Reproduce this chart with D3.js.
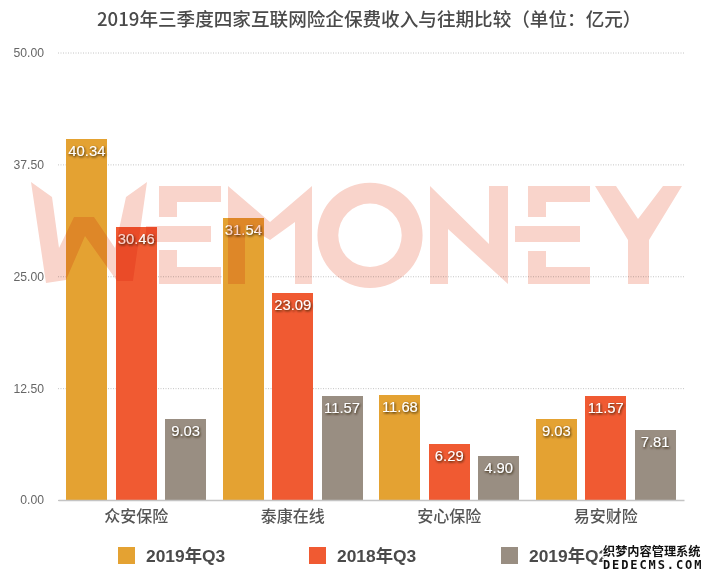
<!DOCTYPE html>
<html lang="zh">
<head>
    <meta charset="UTF-8">
    <title>2019年三季度四家互联网险企保费收入与往期比较</title>
    <script src="https://cdnjs.cloudflare.com/ajax/libs/d3/7.8.5/d3.min.js"></script>
    <style>
        body { margin: 0; padding: 0; background: #fff; }
        svg { display: block; }
        text { font-family: "Liberation Sans", "Noto Sans CJK SC", sans-serif; }
        .title { font-family: "Noto Sans CJK SC", sans-serif; font-size: 18.6px; font-weight: 500; fill: #4a4a4a; }
        .y-axis text { font-size: 12.2px; fill: #666; }
        .y-axis .tick line { stroke: #b5b5b5; stroke-width: 0.8px; stroke-dasharray: 1 1.5; }
        .x-axis text { font-family: "Noto Sans CJK SC", sans-serif; font-size: 16px; font-weight: 500; fill: #555; }
        .bar-label { font-size: 14.8px; fill: #fff; text-anchor: middle; }
        .legend-label { font-size: 17.4px; font-weight: 700; fill: #4a4a4a; }
        .stamp { fill: #111; stroke: #fff; stroke-width: 2.5px; paint-order: stroke; font-weight: 700; }
    </style>
</head>
<body>
    <div id="chart"></div>

    <script>
        const titleText = "2019年三季度四家互联网险企保费收入与往期比较（单位：亿元）";
        const categories = ["众安保险", "泰康在线", "安心保险", "易安财险"];
        const seriesNames = ["2019年Q3", "2018年Q3", "2019年Q2"];
        const seriesColors = ["#E4A232", "#F05A32", "#998E82"];
        const q3of2019 = [40.34, 31.54, 11.68, 9.03];
        const q3of2018 = [30.46, 23.09, 6.29, 11.57];
        const q2of2019 = [9.03, 11.57, 4.90, 7.81];
        const seriesValues = [q3of2019, q3of2018, q2of2019];
        const yTicks = [0, 12.5, 25, 37.5, 50];

        const width = 712;
        const height = 578;
        const margin = { left: 58, right: 28, top: 52.5, bottom: 78 };

        const svg = d3.select("#chart")
            .append("svg")
            .attr("width", width)
            .attr("height", height);

        // css text-shadow is ignored on svg text, so use a real filter
        svg.append("defs").append("filter")
            .attr("id", "label-shadow")
            .attr("x", "-20%").attr("y", "-30%")
            .attr("width", "140%").attr("height", "170%")
            .append("feDropShadow")
            .attr("dx", 0.8).attr("dy", 1.2)
            .attr("stdDeviation", 0.9)
            .attr("flood-color", "#2a1a08")
            .attr("flood-opacity", 1);

        const x0 = d3.scaleBand()
            .domain(categories)
            .range([margin.left, width - margin.right])
            .paddingInner(0.107)
            .paddingOuter(0.0535);

        const x1 = d3.scaleBand()
            .domain(seriesNames)
            .range([0, x0.bandwidth()])
            .paddingInner(0.168);

        const y = d3.scaleLinear()
            .domain([0, 50])
            .range([height - margin.bottom, margin.top]);

        svg.append("text")
            .attr("class", "title")
            .attr("x", 97)
            .attr("y", 26)
            .text(titleText);

        // gridlines + labels
        const yAxis = svg.append("g")
            .attr("class", "y-axis")
            .attr("transform", `translate(${margin.left},0)`)
            .call(d3.axisLeft(y)
                .tickValues(yTicks)
                .tickFormat(d3.format(".2f"))
                .tickSize(-(width - margin.left - margin.right))
                .tickPadding(14));
        yAxis.select(".domain").remove();

        // bars
        const groups = svg.selectAll(".group")
            .data(categories)
            .enter().append("g")
            .attr("class", "group")
            .attr("transform", d => `translate(${x0(d)},0)`);

        groups.each(function(cat, i) {
            seriesNames.forEach((name, s) => {
                d3.select(this).append("rect")
                    .attr("x", x1(name))
                    .attr("y", y(seriesValues[s][i]))
                    .attr("width", x1.bandwidth())
                    .attr("height", y(0) - y(seriesValues[s][i]))
                    .attr("fill", seriesColors[s])
                    .attr("shape-rendering", "crispEdges");
            });
        });

        // WEMONEY watermark, traced as shapes, sits on top of the bars
        const logo = svg.append("g")
            .attr("fill", "#F9D4CB")
            .style("mix-blend-mode", "multiply");
        const logoPaths = [
            "M31,182L52,197L59,248L74,217L94,217L115,248L126,197L147,182L133,281L117,281L85,236L66,280L46,283Z",
            "M159,186H221V202H177V217H159ZM146,226H211V242H146ZM159,250H177V267H221V284H159Z",
            "M228,186L270,222L312,186V284H295V222L270,240L245,225V284H228Z",
            "M430,186L489,244V186H508V284L448,229V284H430Z",
            "M528,186H590V202H546V217H528ZM515,226H580V242H515ZM528,251H546V267H590V284H528Z",
            "M595,186H616L638,219L663,186H682L649,240V284H628V240Z"
        ];
        logo.selectAll("path")
            .data(logoPaths)
            .enter().append("path")
            .attr("d", d => d);
        logo.append("path")
            .attr("fill-rule", "evenodd")
            .attr("d", d3.arc()({ innerRadius: 31.7, outerRadius: 52.6, startAngle: 0, endAngle: 2 * Math.PI }))
            .attr("transform", "translate(370,235.3)");

        // baseline and category labels
        const xAxis = svg.append("g")
            .attr("class", "x-axis")
            .attr("transform", `translate(0,${y(0)})`)
            .call(d3.axisBottom(x0).tickSize(0).tickPadding(11));
        xAxis.select(".domain")
            .attr("stroke", "#c4c4c4")
            .attr("stroke-width", 1.5);

        // value labels
        groups.each(function(cat, i) {
            seriesNames.forEach((name, s) => {
                d3.select(this).append("text")
                    .attr("class", "bar-label")
                    .attr("x", x1(name) + x1.bandwidth() / 2)
                    .attr("y", y(seriesValues[s][i]) + 17)
                    .attr("filter", "url(#label-shadow)")
                    .text(seriesValues[s][i].toFixed(2));
            });
        });

        // legend
        const legendX = d3.scaleOrdinal().domain(seriesNames).range([118, 309, 501]);
        const legend = svg.selectAll(".legend")
            .data(seriesNames)
            .enter().append("g")
            .attr("class", "legend")
            .attr("transform", d => `translate(${legendX(d)},547)`);
        legend.append("rect")
            .attr("width", 17)
            .attr("height", 17)
            .attr("fill", (d, i) => seriesColors[i]);
        legend.append("text")
            .attr("class", "legend-label")
            .attr("x", 28)
            .attr("y", 15)
            .text(d => d);

        // site stamp in the corner
        svg.append("text")
            .attr("class", "stamp")
            .attr("x", 603)
            .attr("y", 556)
            .style("font-family", "'Noto Sans CJK SC', sans-serif")
            .style("font-size", "12.2px")
            .text("织梦内容管理系统");
        svg.append("text")
            .attr("class", "stamp")
            .attr("x", 603)
            .attr("y", 568.5)
            .style("font-family", "'DejaVu Sans Mono', monospace")
            .style("font-size", "12px")
            .style("letter-spacing", "1.9px")
            .text("DEDECMS.COM");
    </script>
</body>
</html>
